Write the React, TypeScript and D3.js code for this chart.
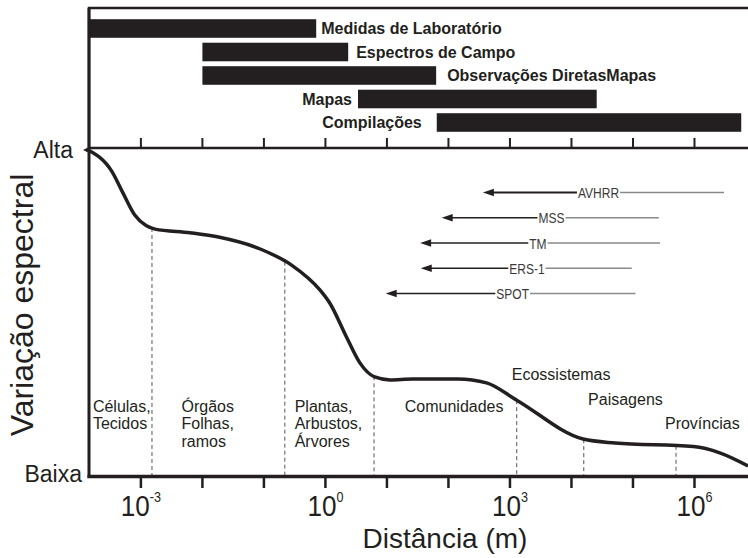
import React, { useEffect, useRef } from "react";
import * as d3 from "d3";

const W = 748;
const H = 558;

// Spectral variation curve: distance as log10(m), level from 0 (Baixa) to 1 (Alta)
const curveExp = [-3.86, -3.47, -3.29, -3.1, -2.91, -2.77, -2.2, -1.72, -1.07, -0.55, -0.09, 0.07, 0.34, 0.56, 0.8, 1.05, 1.42, 2.15, 2.62, 3.11, 4.19, 4.71, 5.98, 6.41, 6.87];
const curveLevel = [1.0, 0.934, 0.868, 0.801, 0.768, 0.758, 0.747, 0.733, 0.698, 0.648, 0.572, 0.532, 0.429, 0.349, 0.306, 0.297, 0.3, 0.3, 0.288, 0.235, 0.116, 0.104, 0.093, 0.074, 0.034];

// Boundaries between organisation levels (log10 m)
const boundaryExp = [-2.82, -0.66, 0.79, 3.11, 4.2, 5.7];

// Organisation levels along the curve
const regionLines = [
  ["Células,", "Tecidos"],
  ["Órgãos", "Folhas,", "ramos"],
  ["Plantas,", "Arbustos,", "Árvores"],
  ["Comunidades"],
  ["Ecossistemas"],
  ["Paisagens"],
  ["Províncias"],
];
const regionExp = [-3.78, -2.34, -0.5, 1.29, 3.03, 4.27, 5.52];
const regionLevel = [0.2, 0.2, 0.2, 0.2, 0.297, 0.22, 0.146];

// Observation methods and the distance ranges they cover (log10 m)
const methodNames = ["Medidas de Laboratório", "Espectros de Campo", "Observações DiretasMapas", "Mapas", "Compilações"];
const methodFrom = [-3.86, -2.0, -2.0, 0.53, 1.81];
const methodTo = [-0.15, 0.37, 1.8, 4.41, 6.76];
const methodLabelSide = ["right", "right", "right", "left", "left"];

// Satellite sensors: arrow tip, far end, and label position (log10 m)
const sensorNames = ["AVHRR", "MSS", "TM", "ERS-1", "SPOT"];
const sensorFrom = [2.56, 1.89, 1.54, 1.55, 0.98];
const sensorTo = [6.48, 5.42, 5.44, 4.98, 5.04];
const sensorLabelAt = [4.44, 3.675, 3.455, 3.276, 3.044];

// Axis ticks
const decades = [-3, -2, -1, 0, 1, 2, 3, 4, 5, 6];
const labelledDecades = [-3, 0, 3, 6];
const levelLabels = ["Baixa", "Alta"];

const INK = "#231f20";
const SANS = "'Liberation Sans', Arial, sans-serif";

export default function App() {
  const ref = useRef<SVGSVGElement>(null);

  useEffect(() => {
    const svg = d3.select(ref.current);
    svg.selectAll("*").remove();

    const x = d3.scaleLog().domain([Math.pow(10, -3.86), Math.pow(10, 6.87)]).range([88, W]);
    const xe = (e: number) => x(Math.pow(10, e));
    const y = d3.scaleLinear().domain([0, 1]).range([477, 150]);
    const rows = d3.scaleBand<string>().domain(methodNames).range([16.75, 134.25]).paddingInner(0.21).paddingOuter(0.105);
    const sensorY = d3.scalePoint<string>().domain(sensorNames).range([192.5, 293.5]);

    const levelAt = (e: number) => {
      const i = Math.max(1, d3.bisectLeft(curveExp, e));
      const t = (e - curveExp[i - 1]) / (curveExp[i] - curveExp[i - 1]);
      return curveLevel[i - 1] + t * (curveLevel[i] - curveLevel[i - 1]);
    };

    // --- top panel: observation methods ---
    const top = svg.append("g");
    top.append("path")
      .attr("d", `M${W + 4},8 H89 V148 H${W + 4}`)
      .attr("fill", "none").attr("stroke", INK).attr("stroke-width", 2.5);
    top.selectAll("line.tt").data(decades).join("line")
      .attr("x1", (d) => xe(d)).attr("x2", (d) => xe(d))
      .attr("y1", 148).attr("y2", 138)
      .attr("stroke", INK).attr("stroke-width", 2);

    const bars = top.selectAll("g.bar").data(methodNames).join("g");
    bars.append("rect")
      .attr("x", (_, i) => xe(methodFrom[i]))
      .attr("width", (_, i) => xe(methodTo[i]) - xe(methodFrom[i]))
      .attr("y", (d) => rows(d)!)
      .attr("height", rows.bandwidth())
      .attr("fill", INK);
    const gaps = [5, 8, 11, 6, 15];
    bars.append("text")
      .attr("x", (_, i) => methodLabelSide[i] === "right" ? xe(methodTo[i]) + gaps[i] : xe(methodFrom[i]) - gaps[i])
      .attr("y", (d) => rows(d)! + rows.bandwidth() / 2 + 5.5)
      .attr("text-anchor", (_, i) => methodLabelSide[i] === "right" ? "start" : "end")
      .attr("font-family", SANS).attr("font-weight", "bold").attr("font-size", 16)
      .attr("fill", INK)
      .text((d) => d);

    // --- main panel ---
    const main = svg.append("g");

    // dashed boundaries between levels
    main.selectAll("line.bd").data(boundaryExp).join("line")
      .attr("x1", (d) => xe(d)).attr("x2", (d) => xe(d))
      .attr("y1", (d) => y(levelAt(d))).attr("y2", 476)
      .attr("stroke", "#555").attr("stroke-width", 1).attr("stroke-dasharray", "4,3");

    // curve
    const pts: [number, number][] = curveExp.map((e, i) => [e, curveLevel[i]]);
    const line = d3.line<[number, number]>().x((d) => xe(d[0])).y((d) => y(d[1])).curve(d3.curveMonotoneX);
    main.append("path").attr("d", line(pts)!)
      .attr("fill", "none").attr("stroke", INK).attr("stroke-width", 3.5)
      .attr("stroke-linejoin", "round");
    const x0 = xe(curveExp[0]);
    const y0 = y(curveLevel[0]);
    main.append("path")
      .attr("d", `M${x0 - 5},${y0} L${x0 + 2},${y0 - 3.5} L${x0 + 2},${y0 + 3.5} Z`)
      .attr("fill", INK);

    // axes
    main.append("line").attr("x1", 89).attr("x2", 89).attr("y1", 8).attr("y2", 478)
      .attr("stroke", INK).attr("stroke-width", 3);
    main.append("line").attr("x1", 87.5).attr("x2", W + 4).attr("y1", 476.5).attr("y2", 476.5)
      .attr("stroke", INK).attr("stroke-width", 3.5);
    main.selectAll("line.bt").data(decades).join("line")
      .attr("x1", (d) => xe(d)).attr("x2", (d) => xe(d))
      .attr("y1", 477).attr("y2", 488)
      .attr("stroke", INK).attr("stroke-width", 2.5);

    const tl = main.selectAll("text.tl").data(labelledDecades).join("text")
      .attr("transform", (d) => `translate(${xe(d)},516) scale(0.9,1)`)
      .attr("text-anchor", "middle")
      .attr("font-family", SANS).attr("font-size", 29).attr("fill", INK);
    tl.append("tspan").text("10");
    tl.append("tspan").attr("dy", -14).attr("font-size", 14).text((d) => String(d));

    main.append("text").attr("x", 445).attr("y", 548)
      .attr("text-anchor", "middle")
      .attr("font-family", SANS).attr("font-size", 28).attr("fill", INK)
      .text("Distância (m)");

    main.selectAll("text.lv").data(levelLabels).join("text")
      .attr("x", (_, i) => (i === 0 ? 82 : 73))
      .attr("y", (_, i) => y(i) + (i === 0 ? 5 : 8))
      .attr("text-anchor", "end")
      .attr("font-family", SANS).attr("font-size", 23).attr("fill", INK)
      .text((d) => d);

    main.append("text")
      .attr("transform", `translate(33,305) rotate(-90)`)
      .attr("text-anchor", "middle")
      .attr("font-family", SANS).attr("font-size", 32).attr("fill", INK)
      .text("Variação espectral");

    // organisation level labels
    const rl = main.selectAll("text.rl").data(regionLines).join("text")
      .attr("x", (_, i) => xe(regionExp[i]))
      .attr("y", (_, i) => y(regionLevel[i]))
      .attr("font-family", SANS).attr("font-size", 16).attr("fill", INK);
    rl.each(function (lines, i) {
      const t = d3.select(this);
      lines.forEach((s, k) => {
        t.append("tspan").attr("x", xe(regionExp[i])).attr("dy", k === 0 ? 0 : 17.5).text(s);
      });
    });

    // sensors
    const squeeze = 0.8;
    const sg = main.selectAll("g.sensor").data(sensorNames).join("g");
    sg.each(function (name, i) {
      const g = d3.select(this);
      const yy = sensorY(name)!;
      const cx = xe(sensorLabelAt[i]);
      const label = g.append("text")
        .attr("transform", `translate(${cx},${yy + 5.5}) scale(${squeeze},1)`)
        .attr("text-anchor", "middle")
        .attr("font-family", SANS).attr("font-size", 15).attr("fill", "#3a3a3a")
        .text(name);
      const w = (label.node() as SVGTextElement).getComputedTextLength() * squeeze;
      const tip = xe(sensorFrom[i]);
      g.append("line").attr("x1", tip + 8).attr("x2", cx - w / 2 - 1)
        .attr("y1", yy).attr("y2", yy)
        .attr("stroke", INK).attr("stroke-width", i === 0 ? 2 : 1.3);
      g.append("path")
        .attr("d", `M${tip},${yy} L${tip + 11},${yy - 3.8} L${tip + 11},${yy + 3.8} Z`)
        .attr("fill", INK);
      g.append("line").attr("x1", cx + w / 2 + 1).attr("x2", xe(sensorTo[i]))
        .attr("y1", yy).attr("y2", yy)
        .attr("stroke", "#8a8a8a").attr("stroke-width", 1.3);
    });
  }, []);

  return (
    <svg
      ref={ref}
      width={W}
      height={H}
      style={{ position: "fixed", left: 0, top: 0, background: "#fff" }}
    />
  );
}
